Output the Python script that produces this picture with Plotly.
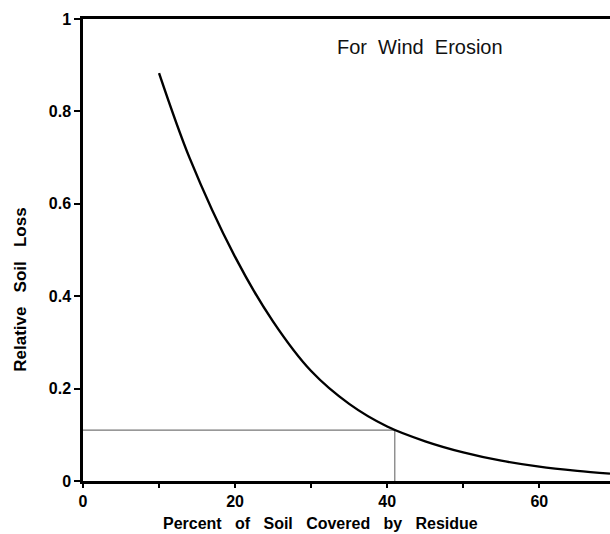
import plotly.graph_objects as go

# Data
cover_pct = [10, 14, 20, 25, 30, 35, 40, 45, 50, 55, 60, 65, 69.3]
rel_loss = [0.883, 0.70, 0.485, 0.345, 0.238, 0.167, 0.118, 0.086, 0.062, 0.044, 0.031, 0.022, 0.016]

ref_x = 41
ref_y = 0.11

x_tickvals = [0, 10, 20, 30, 40, 50, 60]
x_ticktext = ["0", "", "20", "", "40", "", "60"]
y_tickvals = [0, 0.2, 0.4, 0.6, 0.8, 1.0]
y_ticktext = ["0", "0.2", "0.4", "0.6", "0.8", "1"]

FONT = "Liberation Sans, Arial, sans-serif"
SP = "&nbsp;&nbsp; "

fig = go.Figure()

# Reference lines
fig.add_trace(go.Scatter(x=[0, ref_x, ref_x], y=[ref_y, ref_y, 0], mode="lines",
                         line=dict(color="#777777", width=1.2), hoverinfo="skip",
                         showlegend=False))
# Curve
fig.add_trace(go.Scatter(x=cover_pct, y=rel_loss, mode="lines",
                         line=dict(color="black", width=2.4, shape="spline", smoothing=0.9),
                         showlegend=False))

fig.add_annotation(x=44.3, y=0.94, text="For&nbsp; Wind&nbsp; Erosion", showarrow=False,
                   xref="x", yref="y",
                   font=dict(family=FONT, size=20, color="#111111"))

# Axis titles (placed as in the reference)
fig.add_annotation(x=0.4516, y=-0.092, xref="paper", yref="paper",
                   text="<b>" + SP.join(["Percent", "of", "Soil", "Covered", "by", "Residue"]) + "</b>",
                   showarrow=False, xanchor="center", yanchor="middle",
                   font=dict(family=FONT, size=16, color="black"))
fig.add_annotation(x=-0.1176, y=0.414, xref="paper", yref="paper",
                   text="<b>" + SP.join(["Relative", "Soil", "Loss"]) + "</b>", textangle=-90,
                   showarrow=False, xanchor="center", yanchor="middle",
                   font=dict(family=FONT, size=17, color="black"))

fig.update_layout(
    width=610, height=534,
    margin=dict(l=83, r=0, t=19, b=53),
    paper_bgcolor="white", plot_bgcolor="white",
    font=dict(family=FONT, color="black"),
    xaxis=dict(range=[0, 69.3], tickvals=x_tickvals, ticktext=x_ticktext,
               ticks="outside", ticklen=4, tickwidth=1.5, tickcolor="black",
               showline=True, linecolor="black", linewidth=2.5, mirror=True,
               showgrid=False, zeroline=False,
               tickfont=dict(family=FONT, size=16, color="black", weight="bold")),
    yaxis=dict(range=[0, 1.0], tickvals=y_tickvals, ticktext=y_ticktext,
               ticks="outside", ticklen=6, tickwidth=1.5, tickcolor="black",
               showline=True, linecolor="black", linewidth=2.5, mirror=False,
               showgrid=False, zeroline=False,
               tickfont=dict(family=FONT, size=16, color="black", weight="bold")),
)

fig.write_html("out.html")
